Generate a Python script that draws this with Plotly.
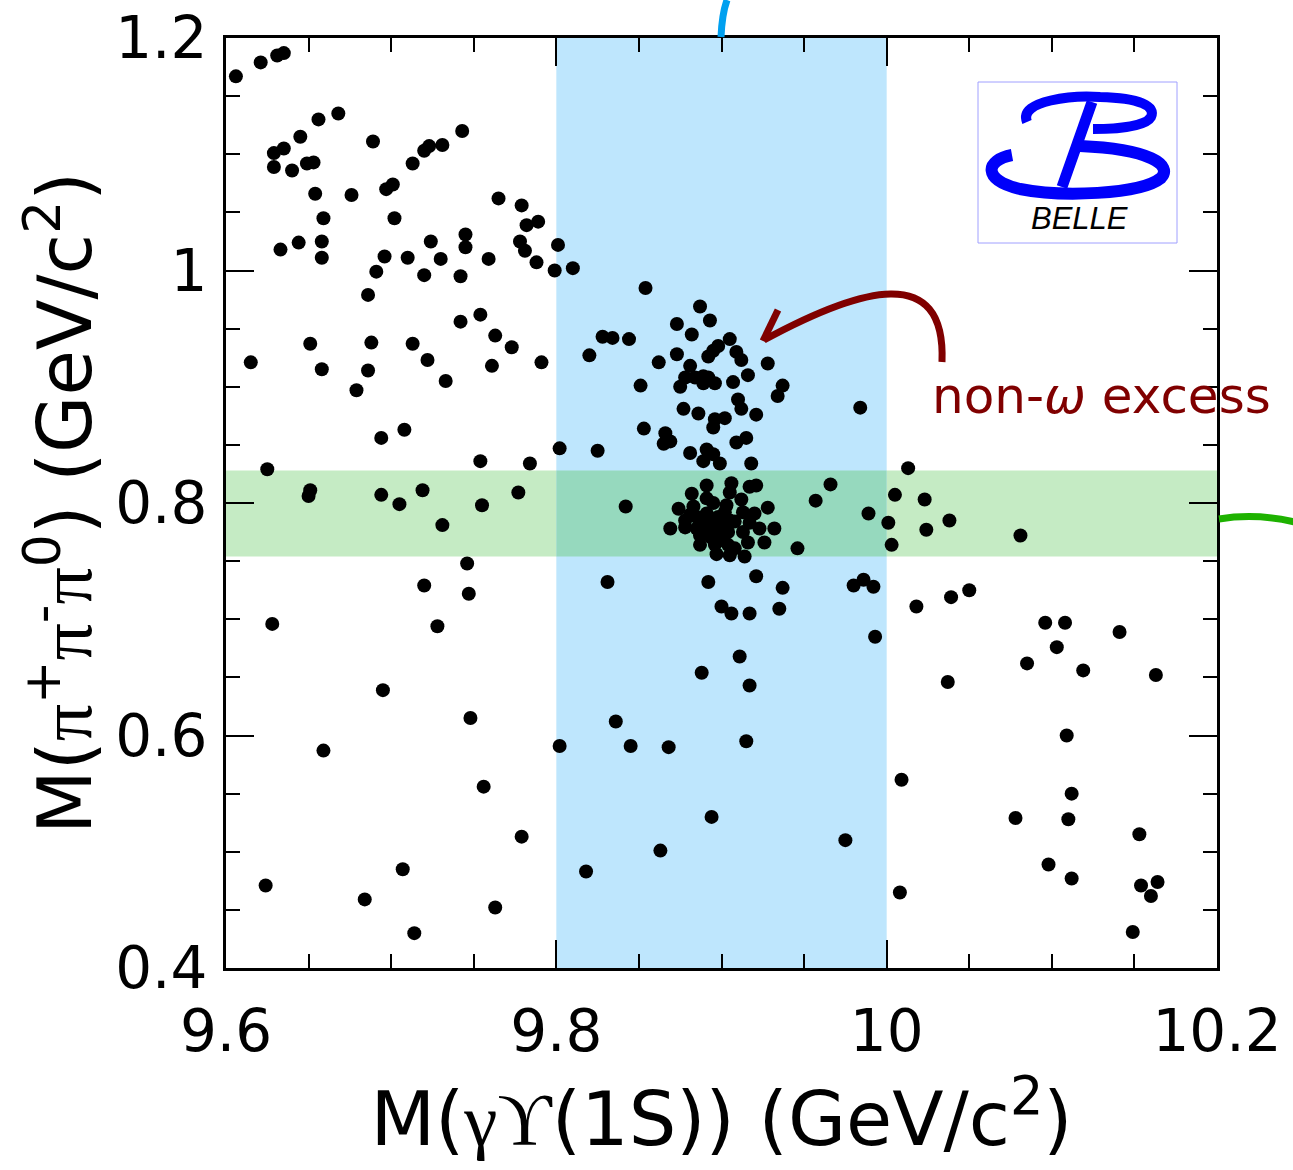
import plotly.graph_objects as go

# ---- data: M(gamma Upsilon(1S)) [GeV/c^2] vs M(pi+ pi- pi0) [GeV/c^2] ----
# lower sideband
low_x = [9.606, 9.621, 9.631, 9.635, 9.668, 9.656, 9.645, 9.689, 9.743, 9.731,
         9.723, 9.720, 9.635, 9.629, 9.629, 9.640, 9.649, 9.653, 9.713, 9.654,
         9.676, 9.697, 9.701, 9.765, 9.779, 9.659, 9.702, 9.782, 9.789, 9.745,
         9.633, 9.644, 9.658, 9.724, 9.745, 9.778, 9.781, 9.658, 9.696, 9.710,
         9.730, 9.759, 9.788, 9.799, 9.691, 9.720, 9.742, 9.686, 9.742, 9.754,
         9.763, 9.773, 9.651, 9.688, 9.713, 9.722, 9.615, 9.791, 9.658, 9.686,
         9.761, 9.679, 9.733, 9.694, 9.708, 9.625, 9.754, 9.784, 9.651, 9.650,
         9.694, 9.705, 9.719, 9.755, 9.777, 9.731, 9.746, 9.720, 9.747, 9.628,
         9.728, 9.695, 9.748, 9.659, 9.756, 9.779, 9.624, 9.707, 9.684, 9.763,
         9.714]
low_y = [1.167, 1.179, 1.185, 1.187, 1.135, 1.130, 1.115, 1.111, 1.120, 1.108,
         1.107, 1.103, 1.105, 1.101, 1.089, 1.086, 1.092, 1.093, 1.092, 1.066,
         1.065, 1.070, 1.074, 1.062, 1.056, 1.045, 1.045, 1.039, 1.042, 1.031,
         1.018, 1.024, 1.025, 1.025, 1.020, 1.025, 1.017, 1.011, 1.012, 1.011,
         1.010, 1.010, 1.007, 1.000, 0.999, 0.996, 0.995, 0.979, 0.956, 0.962,
         0.944, 0.934, 0.937, 0.938, 0.937, 0.923, 0.921, 0.921, 0.915, 0.914,
         0.918, 0.897, 0.905, 0.856, 0.863, 0.829, 0.836, 0.834, 0.811, 0.806,
         0.807, 0.799, 0.811, 0.798, 0.809, 0.781, 0.748, 0.729, 0.722, 0.696,
         0.694, 0.639, 0.615, 0.587, 0.556, 0.513, 0.471, 0.485, 0.459, 0.452,
         0.430]

# signal window 9.8 - 10.0
sig_x = [9.801, 9.802, 9.802, 9.810, 9.854, 9.887, 9.893, 9.873, 9.882, 9.828,
         9.834, 9.844, 9.905, 9.898, 9.895, 9.892, 9.909, 9.912, 9.820, 9.873,
         9.862, 9.928, 9.881, 9.916, 9.878, 9.884, 9.889, 9.892, 9.875, 9.889,
         9.896, 9.907, 9.851, 9.937, 9.934, 9.910, 9.912, 9.877, 9.886, 9.921,
         9.896, 9.902, 9.895, 9.853, 9.866, 9.869, 9.865, 9.915, 9.909, 9.825,
         9.881, 9.891, 9.895, 9.889, 9.899, 9.918, 9.984,
         9.842, 9.957, 9.966, 9.946, 9.989,
         9.831, 9.892, 9.921, 9.937, 9.980, 9.986, 9.992, 9.900, 9.906, 9.917,
         9.935, 9.993, 9.911, 9.888, 9.917, 9.836, 9.845, 9.868, 9.915, 9.894,
         9.975, 9.863, 9.818]
sig_y = [1.022, 0.847, 0.591, 1.002, 0.985, 0.969, 0.957, 0.954, 0.945, 0.943,
         0.942, 0.941, 0.941, 0.935, 0.931, 0.926, 0.930, 0.923, 0.927, 0.928,
         0.921, 0.920, 0.918, 0.910, 0.908, 0.908, 0.909, 0.908, 0.900, 0.903,
         0.903, 0.904, 0.901, 0.901, 0.892, 0.889, 0.881, 0.881, 0.877, 0.876,
         0.872, 0.873, 0.865, 0.864, 0.860, 0.853, 0.851, 0.856, 0.852, 0.845,
         0.843, 0.846, 0.842, 0.836, 0.834, 0.834, 0.882,
         0.797, 0.802, 0.816, 0.761, 0.791,
         0.732, 0.732, 0.737, 0.727, 0.729, 0.734, 0.728, 0.711, 0.705, 0.705,
         0.709, 0.685, 0.668, 0.654, 0.643, 0.612, 0.591, 0.590, 0.595, 0.530,
         0.510, 0.501, 0.483]

# omega peak core
peak_x = [9.891, 9.906, 9.917, 9.921, 9.882, 9.905, 9.912, 9.891, 9.874, 9.883,
          9.895, 9.903, 9.913, 9.920, 9.928, 9.869, 9.878, 9.878, 9.885, 9.885,
          9.891, 9.891, 9.891, 9.898, 9.898, 9.898, 9.905, 9.904, 9.917, 9.923,
          9.932, 9.913, 9.887, 9.894, 9.901, 9.916, 9.926, 9.897, 9.905, 9.908,
          9.914, 9.895, 9.901, 9.888, 9.894, 9.902, 9.908, 9.881, 9.887, 9.896,
          9.904]
peak_y = [0.815, 0.817, 0.814, 0.815, 0.808, 0.809, 0.803, 0.804, 0.795, 0.797,
          0.800, 0.798, 0.792, 0.791, 0.796, 0.778, 0.785, 0.779, 0.788, 0.778,
          0.791, 0.783, 0.774, 0.788, 0.779, 0.771, 0.785, 0.775, 0.783, 0.778,
          0.778, 0.775, 0.764, 0.770, 0.768, 0.766, 0.766, 0.756, 0.755, 0.761,
          0.754, 0.783, 0.783, 0.784, 0.777, 0.792, 0.784, 0.790, 0.772, 0.764,
          0.764]

# upper sideband
high_x = [10.013, 10.005, 10.023, 10.001, 10.024, 10.038, 10.003, 10.081, 10.018, 10.039,
          10.050, 10.096, 10.108, 10.103, 10.141, 10.085, 10.119, 10.163, 10.037, 10.109,
          10.009, 10.112, 10.078, 10.110, 10.153, 10.098, 10.112, 10.008, 10.154, 10.164,
          10.160, 10.149]
high_y = [0.830, 0.807, 0.803, 0.783, 0.777, 0.785, 0.764, 0.772, 0.711, 0.719,
          0.725, 0.697, 0.697, 0.676, 0.689, 0.662, 0.656, 0.652, 0.646, 0.600,
          0.562, 0.550, 0.529, 0.528, 0.515, 0.489, 0.477, 0.465, 0.471, 0.474,
          0.462, 0.431]

x_ticks = [9.6, 9.8, 10.0, 10.2]
x_tick_text = ["9.6", "9.8", "10", "10.2"]
y_ticks = [0.4, 0.6, 0.8, 1.0, 1.2]
y_tick_text = ["0.4", "0.6", "0.8", "1", "1.2"]

signal_window = (9.8, 10.0)
omega_window = (0.754, 0.828)

# ---- layout geometry ----
W, H = 1293, 1170
ML, MR, MT, MB = 226, 76, 38, 202
PW, PH = W - ML - MR, H - MT - MB


def paper(px, py):
    """figure pixel -> paper coordinates"""
    return (px - ML) / PW, (H - MB - py) / PH


def svg_path(segments):
    out = []
    for cmd, pts in segments:
        coords = " ".join("%.5f,%.5f" % paper(*p) for p in pts)
        out.append(cmd + " " + coords)
    return " ".join(out)


fig = go.Figure()
for xs, ys in [(low_x, low_y), (sig_x, sig_y), (peak_x, peak_y), (high_x, high_y)]:
    fig.add_trace(go.Scatter(x=xs, y=ys, mode="markers",
                             marker=dict(color="black", size=14, line=dict(width=0)),
                             showlegend=False, hoverinfo="x+y"))

BLUE = "rgb(190,230,253)"
GREEN = "rgb(197,235,196)"
OVER = "rgb(150,217,190)"
shapes = [
    dict(type="rect", xref="x", yref="paper", x0=signal_window[0], x1=signal_window[1],
         y0=0, y1=1, fillcolor=BLUE, line=dict(width=0), layer="below"),
    dict(type="rect", xref="x", yref="y", x0=9.6, x1=signal_window[0],
         y0=omega_window[0], y1=omega_window[1], fillcolor=GREEN, line=dict(width=0), layer="below"),
    dict(type="rect", xref="x", yref="y", x0=signal_window[1], x1=10.2,
         y0=omega_window[0], y1=omega_window[1], fillcolor=GREEN, line=dict(width=0), layer="below"),
    dict(type="rect", xref="x", yref="y", x0=signal_window[0], x1=signal_window[1],
         y0=omega_window[0], y1=omega_window[1], fillcolor=OVER, line=dict(width=0), layer="below"),
]

# curved arrow pointing at the excess
DARKRED = "rgb(128,0,0)"
shapes.append(dict(type="path", xref="paper", yref="paper", layer="above",
                   path=svg_path([("M", [(942, 362)]),
                                  ("C", [(946, 262), (860, 288), (764, 340)])]),
                   line=dict(color=DARKRED, width=7)))
shapes.append(dict(type="path", xref="paper", yref="paper", layer="above",
                   path=svg_path([("M", [(778, 310)]), ("L", [(763, 341), (799, 341)])]),
                   line=dict(color=DARKRED, width=7)))

# connector strokes leaving the frame
shapes.append(dict(type="path", xref="paper", yref="paper",
                   path=svg_path([("M", [(721, 37)]), ("Q", [(722, 14), (727, 0)])]),
                   line=dict(color="rgb(0,160,240)", width=7)))
shapes.append(dict(type="path", xref="paper", yref="paper",
                   path=svg_path([("M", [(1219, 519)]), ("Q", [(1256, 513), (1295, 522)])]),
                   line=dict(color="rgb(30,178,0)", width=7)))

# Belle logo
x0, y0 = paper(978, 243)
x1, y1 = paper(1177, 82)
shapes.append(dict(type="rect", xref="paper", yref="paper", x0=x0, x1=x1, y0=y0, y1=y1,
                   fillcolor="white", line=dict(color="rgb(160,160,255)", width=1)))
LOGO = "rgb(0,0,250)"
shapes.append(dict(type="path", xref="paper", yref="paper",
                   path=svg_path([("M", [(1027, 122)]),
                                  ("C", [(1018, 100), (1075, 95), (1100, 97)]),
                                  ("C", [(1140, 98), (1156, 106), (1151, 117)]),
                                  ("C", [(1146, 126), (1120, 129), (1093, 129)])]),
                   line=dict(color=LOGO, width=10)))
shapes.append(dict(type="path", xref="paper", yref="paper",
                   path=svg_path([("M", [(1092, 102)]), ("L", [(1062, 187)])]),
                   line=dict(color=LOGO, width=11)))
shapes.append(dict(type="path", xref="paper", yref="paper",
                   path=svg_path([("M", [(1012, 155)]),
                                  ("C", [(985, 160), (982, 180), (1020, 189)]),
                                  ("C", [(1060, 197), (1140, 195), (1161, 178)]),
                                  ("C", [(1173, 165), (1150, 149), (1080, 146)])]),
                   line=dict(color=LOGO, width=12)))

annotations = [
    dict(text="non-<i>ω</i> excess", xref="paper", yref="paper",
         x=paper(1101, 396)[0], y=paper(1101, 396)[1], xanchor="center", yanchor="middle",
         showarrow=False, font=dict(family="DejaVu Sans", size=50, color=DARKRED)),
    dict(text="<i>BELLE</i>", xref="paper", yref="paper",
         x=paper(1079, 219)[0], y=paper(1079, 219)[1], xanchor="center", yanchor="middle",
         showarrow=False, font=dict(family="Liberation Sans", size=31, color="black")),
]

SERIF = "font-family:'Liberation Serif'"
axis_common = dict(
    showline=True, linecolor="black", linewidth=3, mirror="ticks",
    ticks="inside", ticklen=28, tickwidth=2, tickcolor="black",
    showgrid=False, zeroline=False,
    tickfont=dict(family="DejaVu Sans", size=58, color="black"),
)

fig.update_layout(
    width=W, height=H,
    margin=dict(l=ML, r=MR, t=MT, b=MB, autoexpand=False),
    paper_bgcolor="white", plot_bgcolor="white",
    shapes=shapes, annotations=annotations,
    xaxis=dict(range=[9.6, 10.2], tickvals=x_ticks, ticktext=x_tick_text,
               minor=dict(ticks="inside", ticklen=14, tickwidth=2, tickcolor="black",
                          dtick=0.05, tick0=9.6),
               ticklabelstandoff=10,
               title=dict(text="M(<span style=\"%s\">γϒ</span>(1S)) (GeV/c<sup>2</sup>)" % SERIF,
                          font=dict(family="DejaVu Sans", size=75, color="black"),
                          standoff=20),
               **axis_common),
    yaxis=dict(range=[0.4, 1.2], tickvals=y_ticks, ticktext=y_tick_text,
               minor=dict(ticks="inside", ticklen=14, tickwidth=2, tickcolor="black",
                          dtick=0.05, tick0=0.4),
               ticklabelstandoff=4,
               title=dict(text=("M(<span style=\"%s\">π</span><sup>+</sup>"
                                "<span style=\"%s\">π</span><sup>-</sup>"
                                "<span style=\"%s\">π</span><sup>0</sup>) (GeV/c<sup>2</sup>)")
                          % (SERIF, SERIF, SERIF),
                          font=dict(family="DejaVu Sans", size=74, color="black"),
                          standoff=0),
               **axis_common),
)

fig.write_html("out.html")
